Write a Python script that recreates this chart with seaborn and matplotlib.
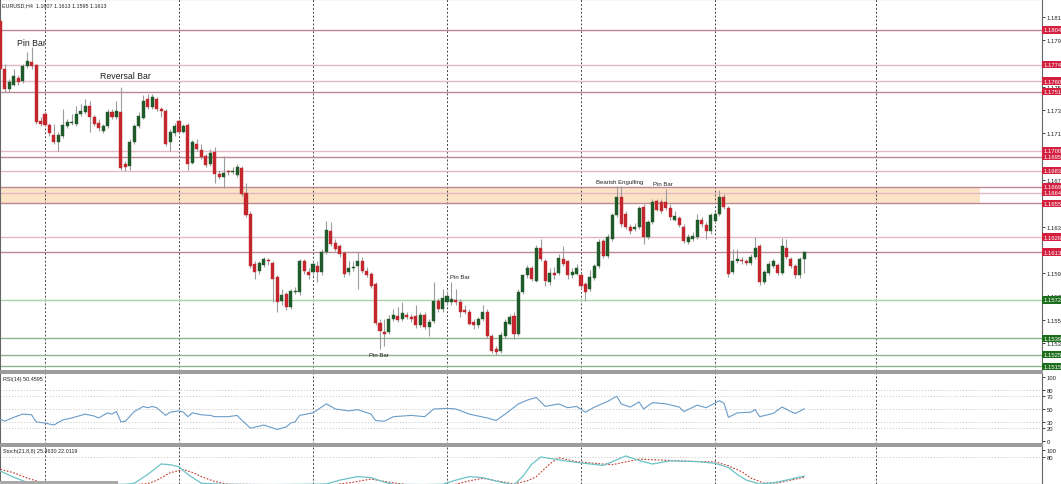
import matplotlib
matplotlib.use("Agg")
import matplotlib.pyplot as plt
import matplotlib.transforms as mtransforms
from matplotlib.patches import Rectangle
import seaborn as sns

# ---------------- data ----------------
opens = [1.1812,1.1770,1.1753,1.1757,1.1763,1.1760,1.1773,1.1776,1.1774,1.1726,
 1.1732,1.1722,1.1714,1.1708,1.1713,1.1721,1.1724,1.1723,1.1732,1.1733,
 1.1739,1.1729,1.1724,1.1717,1.1721,1.1733,1.1729,1.1733,1.1689,1.1687,
 1.1708,1.1721,1.1728,1.1745,1.1738,1.1745,1.1736,1.1734,1.1708,1.1715,
 1.1726,1.1716,1.1722,1.1690,1.1706,1.1701,1.1696,1.1689,1.1699,1.1680,
 1.1678,1.1683,1.1682,1.1679,1.1685,1.1664,1.1646,1.1603,1.1597,1.1602,
 1.1606,1.1604,1.1592,1.1571,1.1577,1.1566,1.1579,1.1579,1.1605,1.1596,
 1.1596,1.1601,1.1596,1.1613,1.1631,1.1621,1.1618,1.1612,1.1596,1.1599,
 1.1601,1.1605,1.1597,1.1594,1.1586,1.1552,1.1544,1.1544,1.1556,1.1558,
 1.1556,1.1559,1.1557,1.1558,1.1550,1.1559,1.1549,1.1554,1.1571,1.1564,
 1.1570,1.1570,1.1572,1.1570,1.1563,1.1562,1.1553,1.1550,1.1556,1.1562,
 1.1541,1.1530,1.1528,1.1541,1.1551,1.1558,1.1543,1.1579,1.1593,1.1599,
 1.1588,1.1617,1.1605,1.1587,1.1595,1.1595,1.1607,1.1605,1.1593,1.1594,
 1.1593,1.1586,1.1581,1.1591,1.1601,1.1623,1.1610,1.1624,1.1645,1.1660,
 1.1646,1.1635,1.1633,1.1635,1.1652,1.1626,1.1639,1.1657,1.1656,1.1656,
 1.1651,1.1641,1.1642,1.1635,1.1622,1.1624,1.1626,1.1641,1.1636,1.1631,
 1.1640,1.1646,1.1660,1.1651,1.1596,1.1605,1.1606,1.1605,1.1604,1.1609,
 1.1618,1.1587,1.1595,1.1601,1.1602,1.1595,1.1617,1.1607,1.1601,1.1593,
 1.1607]
highs = [1.1815,1.1775,1.1762,1.1770,1.1765,1.1775,1.1785,1.1789,1.1775,1.1729,
 1.1734,1.1724,1.1723,1.1716,1.1736,1.1727,1.1732,1.1739,1.1740,1.1745,
 1.1743,1.1731,1.1727,1.1723,1.1736,1.1736,1.1743,1.1755,1.1691,1.1710,
 1.1723,1.1733,1.1748,1.1749,1.1749,1.1746,1.1738,1.1736,1.1719,1.1724,
 1.1727,1.1723,1.1724,1.1709,1.1710,1.1706,1.1697,1.1702,1.1703,1.1684,
 1.1696,1.1684,1.1686,1.1689,1.1687,1.1672,1.1648,1.1605,1.1605,1.1609,
 1.1608,1.1605,1.1593,1.1581,1.1579,1.1581,1.1583,1.1607,1.1607,1.1599,
 1.1605,1.1605,1.1616,1.1640,1.1639,1.1624,1.1620,1.1614,1.1605,1.1605,
 1.1613,1.1609,1.1600,1.1596,1.1587,1.1556,1.1556,1.1559,1.1564,1.1566,
 1.1570,1.1562,1.1560,1.1568,1.1562,1.1562,1.1556,1.1587,1.1574,1.1581,
 1.1580,1.1587,1.1581,1.1573,1.1568,1.1564,1.1556,1.1557,1.1568,1.1564,
 1.1543,1.1532,1.1544,1.1556,1.1560,1.1562,1.1581,1.1594,1.1602,1.1601,
 1.1619,1.1624,1.1607,1.1599,1.1600,1.1611,1.1618,1.1606,1.1599,1.1603,
 1.1594,1.1587,1.1598,1.1603,1.1624,1.1624,1.1629,1.1647,1.1670,1.1670,
 1.1648,1.1637,1.1638,1.1653,1.1654,1.1641,1.1659,1.1659,1.1659,1.1667,
 1.1654,1.1648,1.1644,1.1637,1.1629,1.1630,1.1646,1.1643,1.1639,1.1647,
 1.1648,1.1666,1.1663,1.1653,1.1616,1.1616,1.1609,1.1607,1.1611,1.1626,
 1.1620,1.1598,1.1605,1.1607,1.1604,1.1625,1.1624,1.1609,1.1603,1.1609,
 1.1613]
lows = [1.1769,1.1751,1.1751,1.1756,1.1757,1.1758,1.1771,1.1770,1.1723,1.1721,
 1.1721,1.1713,1.1706,1.1700,1.1711,1.1720,1.1722,1.1721,1.1730,1.1732,
 1.1716,1.1721,1.1717,1.1715,1.1720,1.1727,1.1727,1.1684,1.1683,1.1684,
 1.1706,1.1720,1.1727,1.1736,1.1736,1.1734,1.1729,1.1704,1.1700,1.1713,
 1.1715,1.1715,1.1684,1.1689,1.1700,1.1693,1.1686,1.1687,1.1672,1.1676,
 1.1668,1.1679,1.1680,1.1678,1.1661,1.1643,1.1599,1.1590,1.1594,1.1600,
 1.1602,1.1570,1.1562,1.1568,1.1563,1.1564,1.1577,1.1576,1.1594,1.1590,
 1.1593,1.1587,1.1593,1.1611,1.1618,1.1614,1.1609,1.1592,1.1593,1.1597,
 1.1581,1.1595,1.1592,1.1582,1.1550,1.1530,1.1532,1.1543,1.1554,1.1553,
 1.1554,1.1556,1.1553,1.1548,1.1549,1.1547,1.1541,1.1552,1.1562,1.1562,
 1.1568,1.1568,1.1568,1.1557,1.1560,1.1550,1.1547,1.1548,1.1554,1.1539,
 1.1526,1.1525,1.1526,1.1539,1.1550,1.1538,1.1541,1.1577,1.1591,1.1588,
 1.1587,1.1605,1.1584,1.1585,1.1590,1.1593,1.1601,1.1590,1.1591,1.1593,
 1.1581,1.1571,1.1580,1.1589,1.1599,1.1608,1.1608,1.1623,1.1643,1.1635,
 1.1633,1.1629,1.1631,1.1633,1.1620,1.1624,1.1637,1.1648,1.1647,1.1649,
 1.1641,1.1640,1.1635,1.1621,1.1620,1.1623,1.1624,1.1635,1.1624,1.1629,
 1.1638,1.1644,1.1650,1.1592,1.1594,1.1604,1.1603,1.1602,1.1602,1.1607,
 1.1585,1.1586,1.1593,1.1599,1.1593,1.1593,1.1607,1.1599,1.1591,1.1591,
 1.1595]
closes = [1.1770,1.1753,1.1759,1.1764,1.1759,1.1773,1.1777,1.1773,1.1725,1.1723,
 1.1722,1.1715,1.1708,1.1714,1.1722,1.1725,1.1725,1.1732,1.1734,1.1739,
 1.1729,1.1723,1.1720,1.1721,1.1733,1.1729,1.1734,1.1685,1.1686,1.1708,
 1.1721,1.1730,1.1743,1.1738,1.1746,1.1736,1.1734,1.1706,1.1716,1.1721,
 1.1716,1.1721,1.1689,1.1708,1.1702,1.1695,1.1688,1.1698,1.1680,1.1678,
 1.1681,1.1682,1.1683,1.1686,1.1663,1.1645,1.1601,1.1596,1.1604,1.1607,
 1.1605,1.1590,1.1570,1.1576,1.1566,1.1580,1.1580,1.1605,1.1597,1.1593,
 1.1603,1.1596,1.1613,1.1632,1.1620,1.1616,1.1611,1.1594,1.1599,1.1600,
 1.1605,1.1597,1.1593,1.1584,1.1552,1.1545,1.1543,1.1556,1.1559,1.1555,
 1.1561,1.1557,1.1556,1.1550,1.1559,1.1549,1.1553,1.1571,1.1564,1.1574,
 1.1575,1.1573,1.1570,1.1562,1.1562,1.1551,1.1550,1.1556,1.1562,1.1541,
 1.1528,1.1527,1.1542,1.1553,1.1557,1.1543,1.1579,1.1593,1.1599,1.1590,
 1.1617,1.1607,1.1588,1.1595,1.1593,1.1608,1.1603,1.1593,1.1596,1.1599,
 1.1584,1.1579,1.1592,1.1601,1.1622,1.1610,1.1626,1.1645,1.1660,1.1637,
 1.1635,1.1631,1.1635,1.1651,1.1626,1.1639,1.1656,1.1649,1.1648,1.1651,
 1.1643,1.1644,1.1636,1.1623,1.1626,1.1627,1.1641,1.1637,1.1631,1.1645,
 1.1646,1.1660,1.1652,1.1594,1.1605,1.1607,1.1605,1.1604,1.1609,1.1617,
 1.1587,1.1596,1.1603,1.1605,1.1595,1.1618,1.1609,1.1601,1.1593,1.1607,
 1.1613]

resistance_levels = [1.1804, 1.1774, 1.1760, 1.1751, 1.1700, 1.1695, 1.1683,
                     1.1669, 1.1664, 1.1655, 1.1626, 1.1613]
resistance_dark = [True, False, False, True, False, True, False, True, False, True, False, True]
support_levels = [1.1572, 1.1539, 1.1525, 1.1515]
zone_low, zone_high = 1.1655, 1.1669
price_ticks = [1.1535, 1.1555, 1.1575, 1.1595, 1.1635, 1.1675,
               1.1715, 1.1735, 1.1755, 1.1795, 1.1815]
week_breaks = [10, 40, 70, 100, 130, 160, 196]

rsi_idx = [0,1,3,5,7,8,10,12,14,16,19,21,22,24,25,26,27,28,30,32,33,34,35,37,38,40,41,42,
           43,45,47,48,51,53,54,56,59,62,64,65,66,67,70,73,75,78,80,83,84,86,88,92,95,97,
           100,102,105,109,111,113,116,118,120,122,125,127,129,131,133,136,138,139,141,
           143,144,146,149,152,153,156,158,161,162,163,165,168,169,170,173,175,177,178,180]
rsi_val = [34,31,37,42,41,30,28,25,33,36,42,39,36,44,42,46,30,31,46,54,52,54,52,40,45,47,45,38,
           44,41,40,38,38,40,33,20,25,18,22,28,30,40,44,58,50,47,49,42,32,31,38,40,38,50,
           51,50,42,36,32,42,58,64,68,54,58,52,54,45,53,62,70,58,53,
           61,50,60,58,53,46,56,52,63,59,37,44,45,49,38,43,53,46,43,50.46]
rsi_levels = [20, 30, 50, 70, 80]
rsi_ticks = [0, 20, 30, 50, 70, 80, 100]

stoch_k_idx = [0,3,6,8,12,20,28,30,33,36,38,40,42,45,50,60,70,73,76,80,83,86,88,95,99,102,
               105,108,112,115,117,119,121,124,127,130,135,138,140,143,146,150,156,160,163,
               165,167,170,173,176,178,180]
stoch_k_val = [40,22,8,3,2,1,2,5,30,60,58,52,30,5,2,1,2,3,14,24,21,8,2,1,2,14,
               24,21,8,1,25,60,80,74,68,63,56,72,83,70,60,69,67,62,50,
               30,14,3,6,14,20,25.46]
stoch_d_idx = [0,3,6,9,12,20,30,33,35,38,41,43,45,48,51,60,75,79,83,87,91,100,102,105,108,
               112,115,118,120,123,125,129,133,137,140,143,148,152,156,160,163,166,168,171,
               174,177,180]
stoch_d_val = [45,35,20,8,3,1,1,4,13,35,44,36,24,10,2,1,1,8,17,8,1,1,2,12,19,
               10,3,12,24,60,78,67,62,58,66,74,71,69,67,66,55,38,20,5,
               6,14,22.01]
stoch_levels = [80]
stoch_ticks = [80, 100]

annotations = [("Pin Bar", 6.9, 1.17935, 6.3), ("Reversal Bar", 28.0, 1.17652, 6.3),
               ("Bearish Engulfing", 138.6, 1.16741, 4.3), ("Pin Bar", 148.4, 1.16724, 4.3),
               ("Pin Bar", 102.8, 1.15922, 4.3), ("Pin Bar", 84.8, 1.15255, 4.3)]

# ---------------- style ----------------
sns.set_theme(style="white")
plt.rcParams['font.family'] = ['Liberation Sans', 'DejaVu Sans']

W, H = 1061, 485
fig = plt.figure(figsize=(W / 100, H / 100), dpi=100)
fig.patch.set_facecolor('white')

def rect(x0, y0, x1, y1):
    return [x0 / W, 1 - y1 / H, (x1 - x0) / W, (y1 - y0) / H]

ax = fig.add_axes(rect(0, 0, 1042, 372))
ax2 = fig.add_axes(rect(0, 374, 1042, 444.5))
ax3 = fig.add_axes(rect(0, 446.5, 1042, 485))

XMIN, XMAX = -0.07, 233.2
for a in (ax, ax2, ax3):
    a.set_facecolor('white')
    a.set_xlim(XMIN, XMAX)
    a.set_xticks([])
    a.yaxis.tick_right()
    a.tick_params(axis='y', length=2, width=0.6, labelsize=4.2, pad=1.5,
                  colors='#222222', direction='out')
    for s in a.spines.values():
        s.set_color('#666666')
        s.set_linewidth(0.8)
    for g in week_breaks:
        a.axvline(g, color='#444444', lw=0.7, ls=(0, (2, 2)), zorder=1)

for s in (ax.spines['bottom'], ax2.spines['top'], ax2.spines['bottom'], ax3.spines['top']):
    s.set_color('#9a9a9a')
    s.set_linewidth(1.4)

# ---------------- main price panel ----------------
ax.set_ylim(1.15109, 1.18305)
ax.axhspan(zone_low, zone_high, xmin=0, xmax=980 / 1042, color='#fde3c6', zorder=0.5, lw=0)

red_box, green_box = '#d3203f', '#1c6e1c'
blend = mtransforms.blended_transform_factory(ax.transAxes, ax.transData)
for lvl, dark in zip(resistance_levels, resistance_dark):
    ax.axhline(lvl, color='#b98893' if dark else '#e2b9c3', lw=1.0, zorder=1.2)
    ax.text(1.0012, lvl, f"{lvl:.4f}", transform=blend, fontsize=4.2, color='white',
            va='center', ha='left', clip_on=False, zorder=6,
            bbox=dict(boxstyle='square,pad=0.2', fc=red_box, ec='none'))
for j, lvl in enumerate(support_levels):
    ax.axhline(lvl, color='#a8d2a8' if j == 0 else '#8db48d', lw=1.0, zorder=1.2)
    ax.text(1.0012, lvl, f"{lvl:.4f}", transform=blend, fontsize=4.2, color='white',
            va='center', ha='left', clip_on=False, zorder=6,
            bbox=dict(boxstyle='square,pad=0.2', fc=green_box, ec='none'))

idx = list(range(len(opens)))
up_c, dn_c = '#1f5b2a', '#c3262c'
cols = [up_c if c >= o else dn_c for o, c in zip(opens, closes)]
ax.vlines(idx, lows, highs, color='#9c9c9c', lw=0.8, zorder=2)
bottoms = [min(o, c) for o, c in zip(opens, closes)]
heights = [max(abs(c - o), 0.00003) for o, c in zip(opens, closes)]
ax.bar(idx, heights, bottom=bottoms, width=0.68, color=cols, edgecolor=cols,
       linewidth=0.3, zorder=3)

ax.set_yticks(price_ticks)
ax.set_yticklabels([f"{t:.4f}" for t in price_ticks])

for txt, xi, yp, fs in annotations:
    ax.text(xi, yp, txt, fontsize=fs, color='#222222', ha='center', va='center', zorder=5)

# ---------------- RSI panel ----------------
ax2.set_ylim(-3.9, 106.25)
for lv in rsi_levels:
    ax2.axhline(lv, color='#c4c4c4', lw=0.7, ls=(0, (1, 2)), zorder=1)
sns.lineplot(x=rsi_idx, y=rsi_val, ax=ax2, color='#6a9cc8', lw=0.8,
             estimator=None, sort=False, zorder=3)
ax2.set_yticks(rsi_ticks)
ax2.set_yticklabels([str(t) for t in rsi_ticks])
ax2.set_xlabel('')
ax2.set_ylabel('')

# ---------------- Stochastic panel ----------------
ax3.set_ylim(2.86, 112.9)
for lv in stoch_levels:
    ax3.axhline(lv, color='#c4c4c4', lw=0.7, ls=(0, (1, 2)), zorder=1)
sns.lineplot(x=stoch_d_idx, y=stoch_d_val, ax=ax3, color='#c0392b', lw=0.8,
             ls=(0, (1.5, 1.5)), estimator=None, sort=False, zorder=3)
sns.lineplot(x=stoch_k_idx, y=stoch_k_val, ax=ax3, color='#6cc3c6', lw=0.9,
             estimator=None, sort=False, zorder=4)
ax3.set_yticks(stoch_ticks)
ax3.set_yticklabels([str(t) for t in stoch_ticks])
ax3.set_xlabel('')
ax3.set_ylabel('')
for a in (ax, ax2, ax3):
    a.set_xlim(XMIN, XMAX)

# ---------------- headers ----------------
fig.text(2 / W, 1 - 5.5 / H, "EURUSD,H4  1.1607 1.1613 1.1595 1.1613", fontsize=3.9,
         color='#222222', va='center', ha='left')
fig.text(3 / W, 1 - 379.5 / H, "RSI(14) 50.4595", fontsize=3.9, color='#222222',
         va='center', ha='left')
fig.text(3 / W, 1 - 452 / H, "Stoch(21,8,8) 25.4630 22.0119", fontsize=3.9,
         color='#222222', va='center', ha='left')
fig.patches.append(Rectangle((0, 0), 118 / W, 3.5 / H, transform=fig.transFigure,
                             facecolor='#a9a9a9', edgecolor='none'))

fig.savefig("out.png", dpi=100)
